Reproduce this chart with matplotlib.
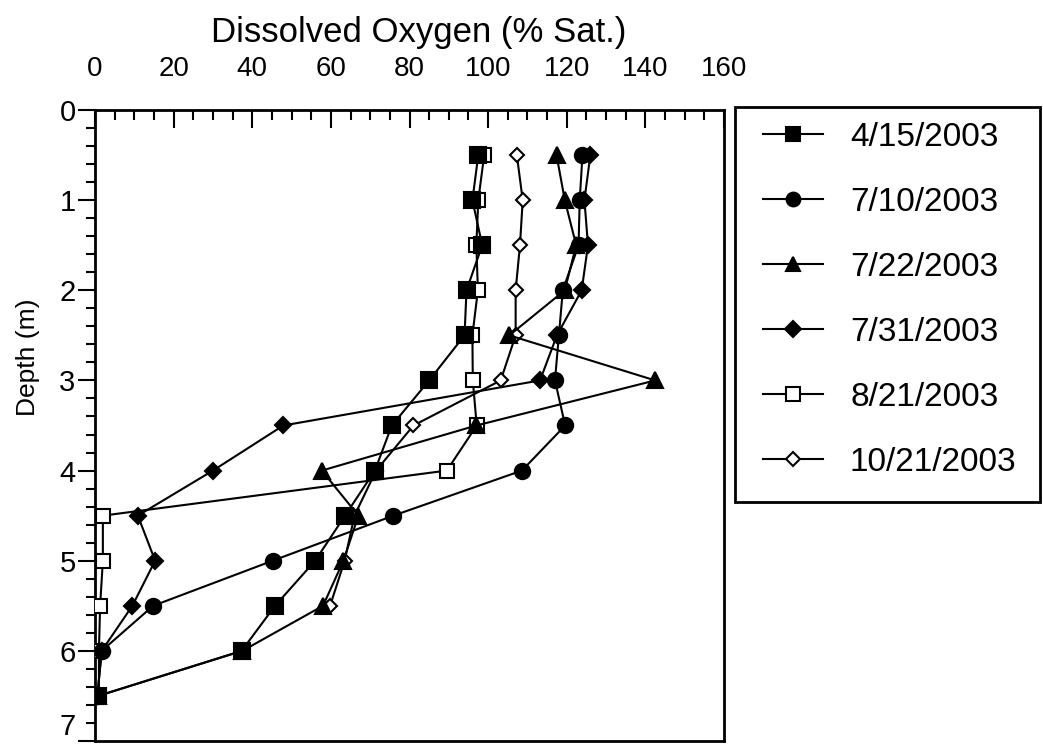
import matplotlib.pyplot as plt
from matplotlib.patches import Rectangle
from matplotlib.ticker import MultipleLocator

plt.rcParams['font.family'] = ['Liberation Sans', 'DejaVu Sans']

# depth profiles of dissolved oxygen (% saturation)
depth = [0.5, 1.0, 1.5, 2.0, 2.5, 3.0, 3.5, 4.0, 4.5, 5.0, 5.5, 6.0, 6.5]
do_0415 = [97.5, 96.0, 98.5, 94.5, 94.0, 85.0, 75.5, 71.2, 63.6, 56.0, 45.8, 37.3, 0.8]
do_0710 = [124.0, 123.3, 123.0, 119.0, 118.0, 117.0, 119.6, 108.6, 75.9, 45.2, 14.8, 1.7, 0.6]
do_0722 = [117.4, 119.5, 122.4, 119.5, 105.4, 142.5, 97.0, 57.7, 67.0, 63.2, 58.0, 37.5, 0.8]
do_0731 = [126.0, 124.5, 125.4, 123.8, 117.5, 113.2, 47.9, 30.0, 10.9, 15.3, 9.5, 1.7, 0.6]
do_0821 = [99.0, 97.5, 97.0, 97.4, 96.0, 96.1, 97.1, 89.5, 2.0, 2.0, 1.3, 1.0, 1.0]
depth_1021 = [0.5, 1.0, 1.5, 2.0, 2.5, 3.0, 3.5, 4.0, 4.5, 5.0, 5.5]
do_1021 = [107.3, 108.8, 108.1, 107.0, 107.0, 103.2, 81.0, 71.5, 66.0, 63.5, 59.8]

dates = ['4/15/2003', '7/10/2003', '7/22/2003', '7/31/2003', '8/21/2003', '10/21/2003']

series = [
    (depth, do_0415, dict(marker='s', ms=11, mfc='black')),
    (depth, do_0710, dict(marker='o', ms=11, mfc='black')),
    (depth, do_0722, dict(marker='^', ms=11.5, mfc='black')),
    (depth, do_0731, dict(marker='D', ms=8.5, mfc='black')),
    (depth, do_0821, dict(marker='s', ms=10.5, mfc='white')),
    (depth_1021, do_1021, dict(marker='D', ms=7.5, mfc='white')),
]

fig = plt.figure(figsize=(10.43, 7.48), dpi=100)
ax = fig.add_axes([95 / 1043, 1 - 741 / 748, (724 - 95) / 1043, (741 - 110) / 748])

handles = []
n = len(series)
for i, (y, x, st) in enumerate(series):
    line, = ax.plot(x, y, color='black', lw=1.5, mec='black', mew=1.5,
                    zorder=10 + n - i, **st)
    handles.append(line)

ax.set_xlim(0, 160)
ax.set_ylim(7, 0)

ax.xaxis.tick_top()
ax.xaxis.set_label_position('top')
ax.xaxis.set_major_locator(MultipleLocator(20))
ax.xaxis.set_minor_locator(MultipleLocator(5))
ax.yaxis.set_major_locator(MultipleLocator(1))
ax.yaxis.set_minor_locator(MultipleLocator(0.2))

ax.tick_params(axis='x', which='both', direction='in', top=True, bottom=False,
               width=1.5, labelsize=20, pad=20)
ax.tick_params(axis='x', which='major', length=13)
ax.tick_params(axis='x', which='minor', length=7)
ax.tick_params(axis='y', which='both', direction='out', left=True, right=False,
               width=1.5, labelsize=21, pad=2)
ax.tick_params(axis='y', which='major', length=12)
ax.tick_params(axis='y', which='minor', length=6.5)

for sp in ax.spines.values():
    sp.set_linewidth(2)

ax.set_xlabel('Dissolved Oxygen (% Sat.)', fontsize=25)
ax.xaxis.set_label_coords(0.515, 1.108)
ax.set_ylabel('Depth (m)', fontsize=19)
ax.yaxis.set_label_coords(-0.087, 0.608)

# legend box drawn separately so its size matches the original
fig.patches.append(Rectangle((735 / 1043, 1 - 502 / 748), 305 / 1043, 395 / 748,
                             transform=fig.transFigure, fill=False,
                             edgecolor='black', lw=2))
fig.legend(handles, dates, loc='upper left',
           bbox_to_anchor=(763 / 1043, 1 - 122 / 748),
           bbox_transform=fig.transFigure, frameon=False,
           fontsize=24, handlelength=1.8, handletextpad=0.81,
           labelspacing=1.02, borderpad=0, borderaxespad=0, markerscale=0.9)

# the bottom "7" sits just above its tick in the original
fig.canvas.draw()
for tick in ax.yaxis.get_major_ticks():
    if tick.label1.get_text() == '7':
        tick.label1.set_verticalalignment('bottom')

fig.savefig('out.png', dpi=100)
